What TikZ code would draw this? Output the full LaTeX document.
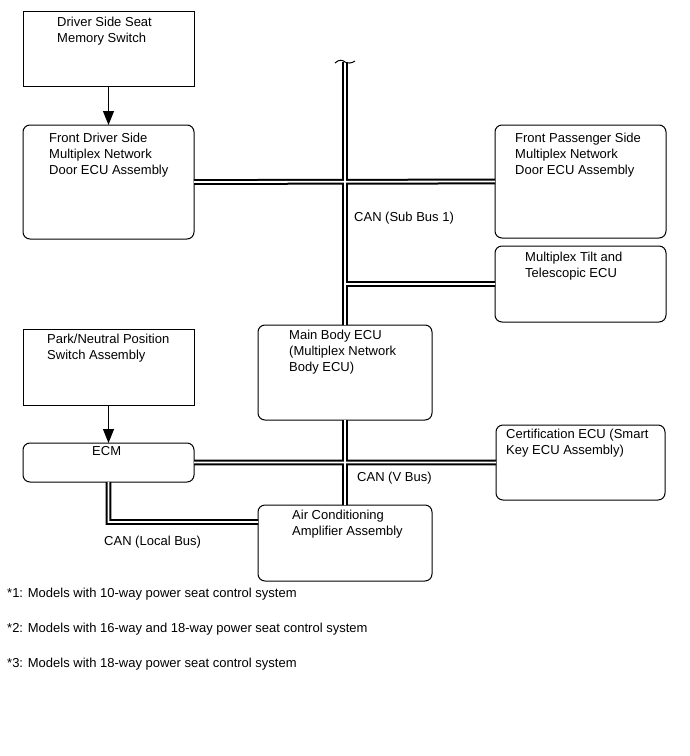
\documentclass[tikz,border=0pt]{standalone}
\usepackage{fontspec}
\setmainfont{Liberation Sans}
\usetikzlibrary{arrows.meta}
\begin{document}
\begin{tikzpicture}[x=1pt,y=-1pt,
		unit/.style={draw,line width=1pt,rounded corners=7pt,anchor=north west,inner sep=0pt,outer sep=0pt},
		switchbox/.style={unit,rounded corners=0pt},
		txt/.style={anchor=north west,inner sep=0pt,align=left,font=\fontsize{13}{16}\selectfont},
		bus/.style={draw=black,line width=2pt,double=white,double distance=1.8pt},
		feed/.style={line width=1pt,-{Triangle[length=14pt,width=11pt]}}]
	\useasboundingbox (0,0) rectangle (689,756);
	% boxes
	\node[switchbox,minimum width=171pt,minimum height=75pt] (mem) at (23,11) {};
	\node[switchbox,minimum width=171pt,minimum height=76pt] (pns) at (23,329) {};
	\foreach \n/\x/\y/\w/\h in {fdoor/23/125/171/114,pdoor/495/125/171/113,tilt/495/246/171/76,
		mbody/258/325/174/95,ecm/23/443/171/39,cert/496/425/169/75,aca/258/505/174/76}
	\node[unit,minimum width=\w pt,minimum height=\h pt] (\n) at (\x,\y) {};
	% texts
	\node[txt] (memL) at (57,17) {Driver Side Seat\\Memory Switch};
	\node[txt] (fdoorL) at (49,133) {Front Driver Side\\Multiplex Network\\Door ECU Assembly};
	\node[txt] (pdoorL) at (515,133) {Front Passenger Side\\Multiplex Network\\Door ECU Assembly};
	\node[txt] (tiltL) at (525,252) {Multiplex Tilt and\\Telescopic ECU};
	\node[txt] (mbodyL) at (289,330) {Main Body ECU\\(Multiplex Network\\Body ECU)};
	\node[txt] (pnsL) at (47,334) {Park/Neutral Position\\Switch Assembly};
	\node[txt] (ecmL) at (92,446) {ECM};
	\node[txt] (certL) at (506,429) {Certification ECU (Smart\\Key ECU Assembly)};
	\node[txt] (acaL) at (292,510) {Air Conditioning\\Amplifier Assembly};
	\node[txt] (subL) at (354,212) {CAN (Sub Bus 1)};
	\node[txt] (vL) at (357,472) {CAN (V Bus)};
	\node[txt] (localL) at (104,536) {CAN (Local Bus)};
	\foreach \k/\t/\y in {1/10-way/588,2/16-way and 18-way/623,3/18-way/658}
	\node[txt] (note\k) at (7,\y) {*\k: Models with \t\ power seat control system};
	% buses
	\coordinate (top) at (345,62);
	\path[bus] (top)--(mbody.north) (mbody.south)--(aca.north)
		(fdoor.east)--(pdoor.west) (tilt.west -| top)--(tilt.west)
		(ecm.east)--(cert.west) (ecm.south) |- ([yshift=21pt]aca.west);
	\draw[line width=1pt] (335,63) .. controls (339,59) and (343,60) .. (top) .. controls (348,64) and (352,63) .. (355,61);
	% arrows
	\draw[feed] (mem.south)--(fdoor.north);
	\draw[feed] (pns.south)--(ecm.north);
\end{tikzpicture}
\end{document}
